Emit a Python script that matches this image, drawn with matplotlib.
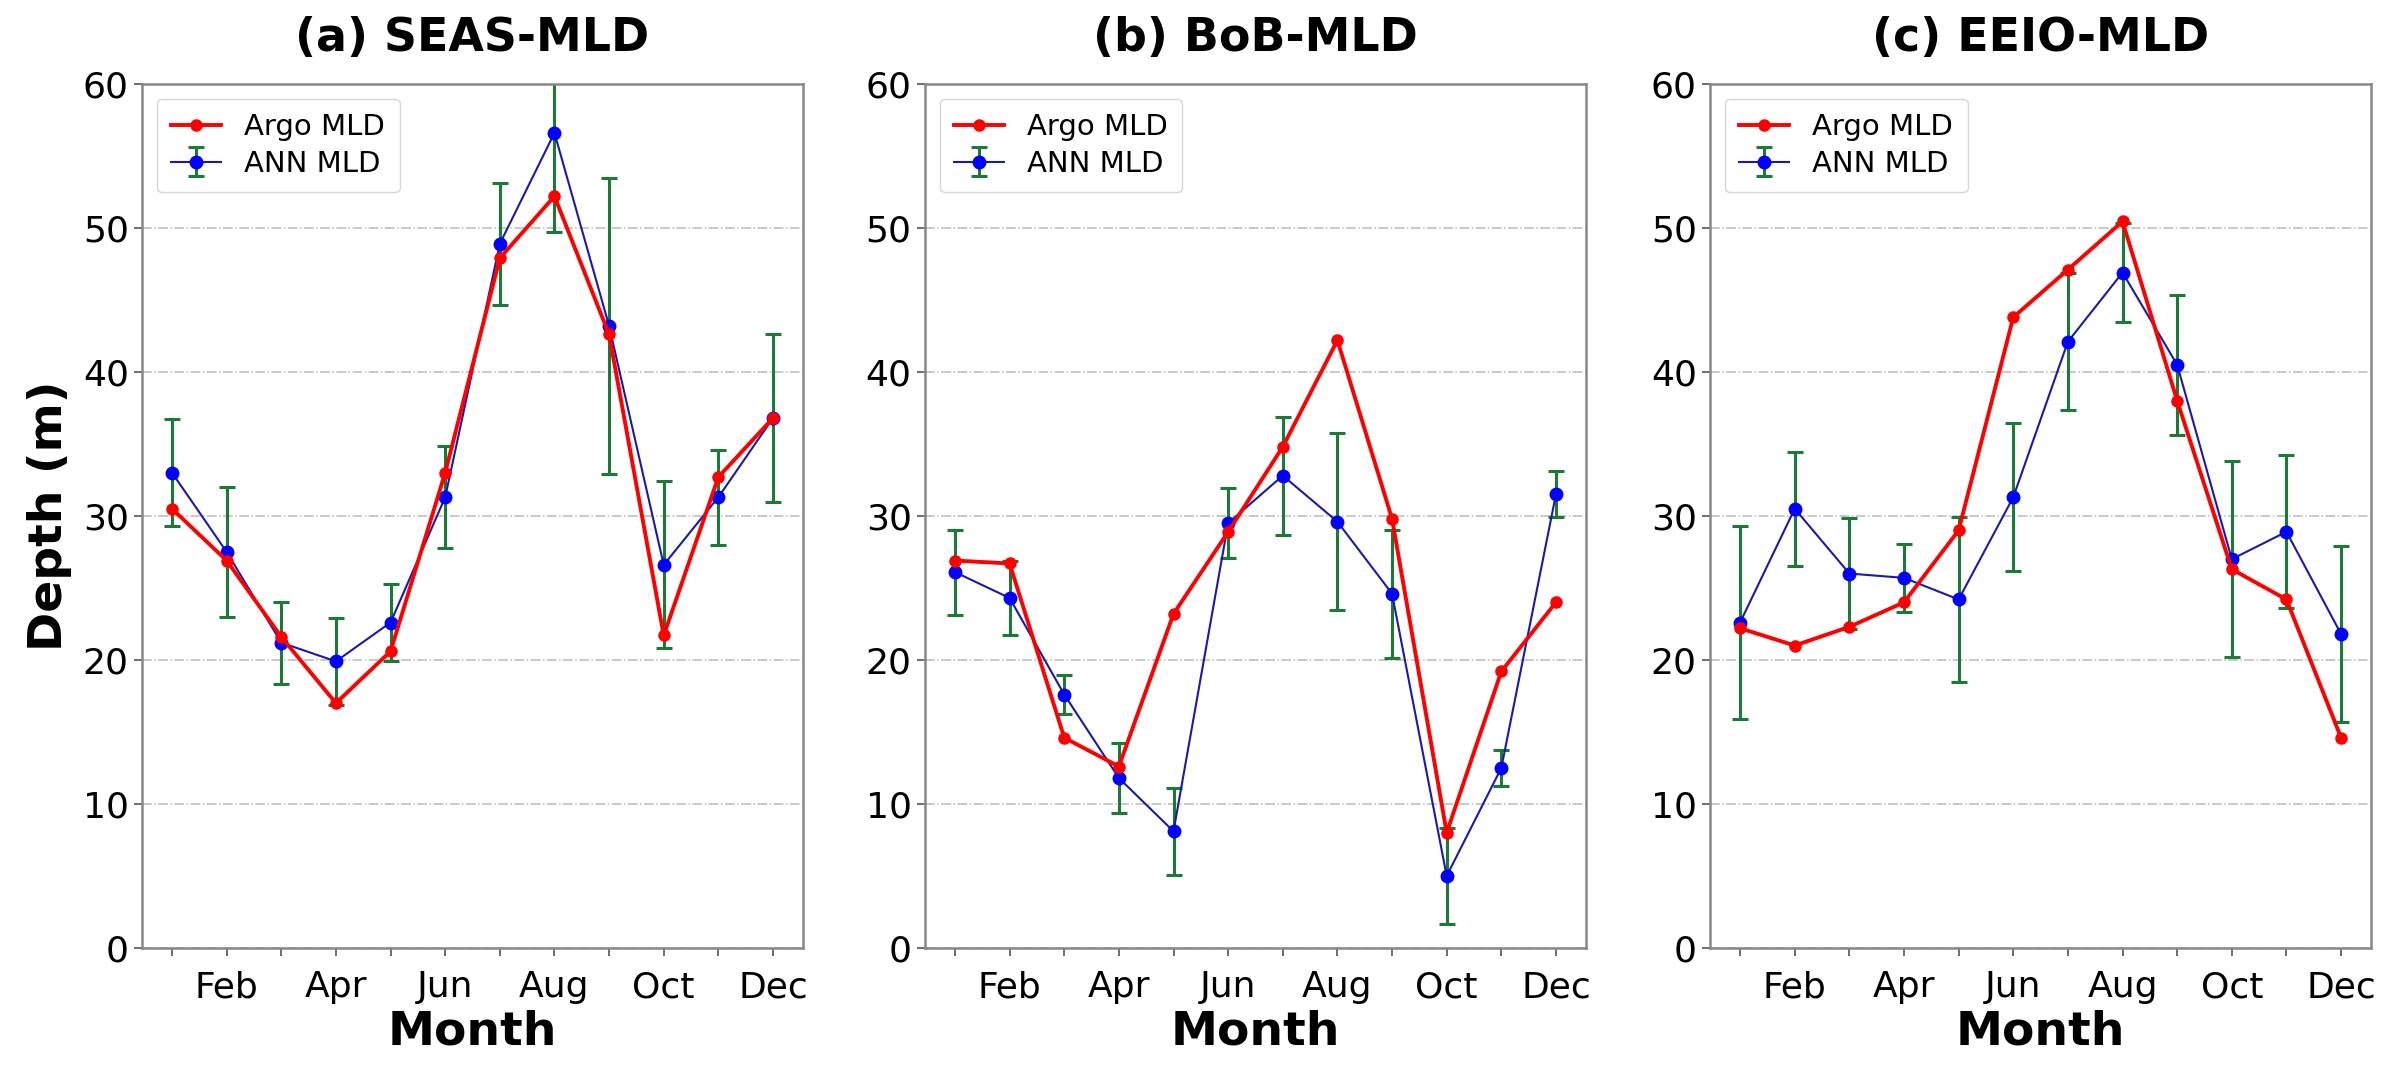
import numpy as np
import matplotlib
matplotlib.use("Agg")
import matplotlib.pyplot as plt

# mois et etiquettes de l'axe x (une sur deux)
months = np.arange(1, 13)
month_labels = ['', 'Feb', '', 'Apr', '', 'Jun', '', 'Aug', '', 'Oct', '', 'Dec']

titles = ['(a) SEAS-MLD', '(b) BoB-MLD', '(c) EEIO-MLD']

# SEAS
argo_seas = [30.5, 26.9, 21.6, 17.0, 20.6, 33.0, 47.9, 52.2, 42.6, 21.7, 32.7, 36.8]
ann_seas = [33.0, 27.5, 21.2, 19.9, 22.6, 31.3, 48.9, 56.6, 43.2, 26.6, 31.3, 36.8]
err_seas = [3.7, 4.5, 2.85, 3.0, 2.7, 3.55, 4.25, 6.9, 10.3, 5.8, 3.3, 5.8]

# BoB
argo_bob = [26.9, 26.7, 14.6, 12.6, 23.2, 28.9, 34.8, 42.2, 29.8, 8.0, 19.2, 24.0]
ann_bob = [26.1, 24.3, 17.6, 11.8, 8.1, 29.5, 32.8, 29.6, 24.6, 5.0, 12.5, 31.5]
err_bob = [2.95, 2.55, 1.35, 2.4, 3.0, 2.45, 4.1, 6.15, 4.45, 3.35, 1.25, 1.6]

# EEIO
argo_eeio = [22.2, 21.0, 22.3, 24.0, 29.0, 43.8, 47.1, 50.45, 38.0, 26.3, 24.2, 14.6]
ann_eeio = [22.6, 30.5, 26.0, 25.7, 24.2, 31.3, 42.1, 46.9, 40.5, 27.0, 28.9, 21.8]
err_eeio = [6.7, 3.95, 3.85, 2.35, 5.7, 5.15, 4.75, 3.45, 4.85, 6.8, 5.3, 6.1]

argo_all = [argo_seas, argo_bob, argo_eeio]
ann_all = [ann_seas, ann_bob, ann_eeio]
err_all = [err_seas, err_bob, err_eeio]

fig = plt.figure(figsize=(23.9, 10.76), dpi=100)
lefts = [0.0594, 0.387, 0.7155]
width = 0.2766
bottom, height = 0.119, 0.803

for i in range(3):
    ax = fig.add_axes([lefts[i], bottom, width, height])
    ax.plot(months, argo_all[i], '-o', color='red', lw=2.8, ms=8,
            label='Argo MLD', zorder=3)
    ax.errorbar(months, ann_all[i], yerr=err_all[i], fmt='-o', color='#1a1aa8',
                mfc='blue', mec='blue', ms=9, lw=1.5, ecolor='#1b7a35',
                elinewidth=2.2, capsize=5.5, capthick=2.2, label='ANN MLD',
                zorder=2)

    ax.set_ylim(0, 60)
    ax.set_yticks(np.arange(0, 61, 10))
    ax.set_xticks(months)
    ax.set_xticklabels(month_labels)
    ax.tick_params(labelsize=26, length=6, width=1.2, colors='#555555',
                   labelcolor='black')
    ax.tick_params(axis='x', pad=10)
    ax.grid(True, axis='y', linestyle='-.', color='#bbbbbb', lw=1.1)
    for s in ax.spines.values():
        s.set_color('#888888')
        s.set_linewidth(1.8)

    ax.set_title(titles[i], fontsize=33, fontweight='bold', pad=24)
    ax.set_xlabel('Month', fontsize=34, fontweight='bold', labelpad=4)
    if i == 0:
        ax.set_ylabel('Depth (m)', fontsize=34, fontweight='bold', labelpad=8)
    ax.legend(loc='upper left', fontsize=21, borderpad=0.5, labelspacing=0.3,
              handlelength=1.7)

fig.savefig('out.png', dpi=100)
